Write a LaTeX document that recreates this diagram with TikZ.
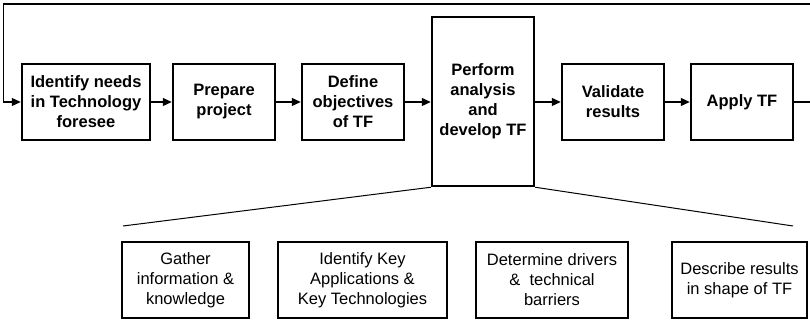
\documentclass[tikz,border=0pt]{standalone}
\usepackage{fontspec}
\setmainfont{Liberation Sans}
\usetikzlibrary{arrows.meta}
\tikzset{
  topbox/.style={draw, line width=2.5pt, inner sep=0pt, minimum height=76pt, align=center,
    font=\fontsize{16.5}{20}\selectfont\bfseries},
  subbox/.style={draw, line width=2.5pt, inner sep=0pt, minimum height=76pt, align=center,
    font=\fontsize{16.5}{20}\selectfont},
  flow/.style={line width=1.3pt, -{Triangle[length=9pt,width=8pt]}},
  fan/.style={line width=1pt}
}
\begin{document}
\begin{tikzpicture}[x=1pt,y=-1pt]
\useasboundingbox (0,0) rectangle (810,320);
\node[topbox, minimum width=128pt] (b1) at (86,102) {Identify needs\\in Technology\\foresee};
\node[topbox, minimum width=102pt] (b2) at (224,102) {Prepare\\project};
\node[topbox, minimum width=102pt] (b3) at (353,102) {Define\\objectives\\of TF};
\node[topbox, minimum width=102pt, minimum height=169pt] (b4) at (483,101.5) {Perform\\analysis\\and\\develop TF};
\node[topbox, minimum width=102pt] (b5) at (613,102) {Validate\\results};
\node[topbox, minimum width=102pt] (b6) at (742,102) {Apply TF};

\node[subbox, minimum width=127pt] (s1) at (185.5,280) {Gather\\information \&\\knowledge};
\node[subbox, minimum width=169pt] (s2) at (362.5,280) {Identify Key\\Applications \&\\Key Technologies};
\node[subbox, minimum width=152pt] (s3) at (552,280) {Determine drivers\\\&~~technical\\barriers};
\node[subbox, minimum width=135pt] (s4) at (739.5,280) {Describe results\\in shape of TF};

\coordinate (fl) at (123,226);
\coordinate (fr) at (793,226);
\coordinate (loopR) at (812,4);
\coordinate (loopL) at (3.5,4);

\draw[flow] (b1) -- (b2);
\draw[flow] (b2) -- (b3);
\draw[flow] (b3.east) -- (b4.west |- b3.east);
\draw[flow] (b4.east |- b5.west) -- (b5.west);
\draw[flow] (b5) -- (b6);
\draw[flow] (b6.east) -| (loopR) -- (loopL) |- (b1.west);

\draw[fan] (b4.south west) -- (fl);
\draw[fan] (b4.south east) -- (fr);
\end{tikzpicture}
\end{document}
